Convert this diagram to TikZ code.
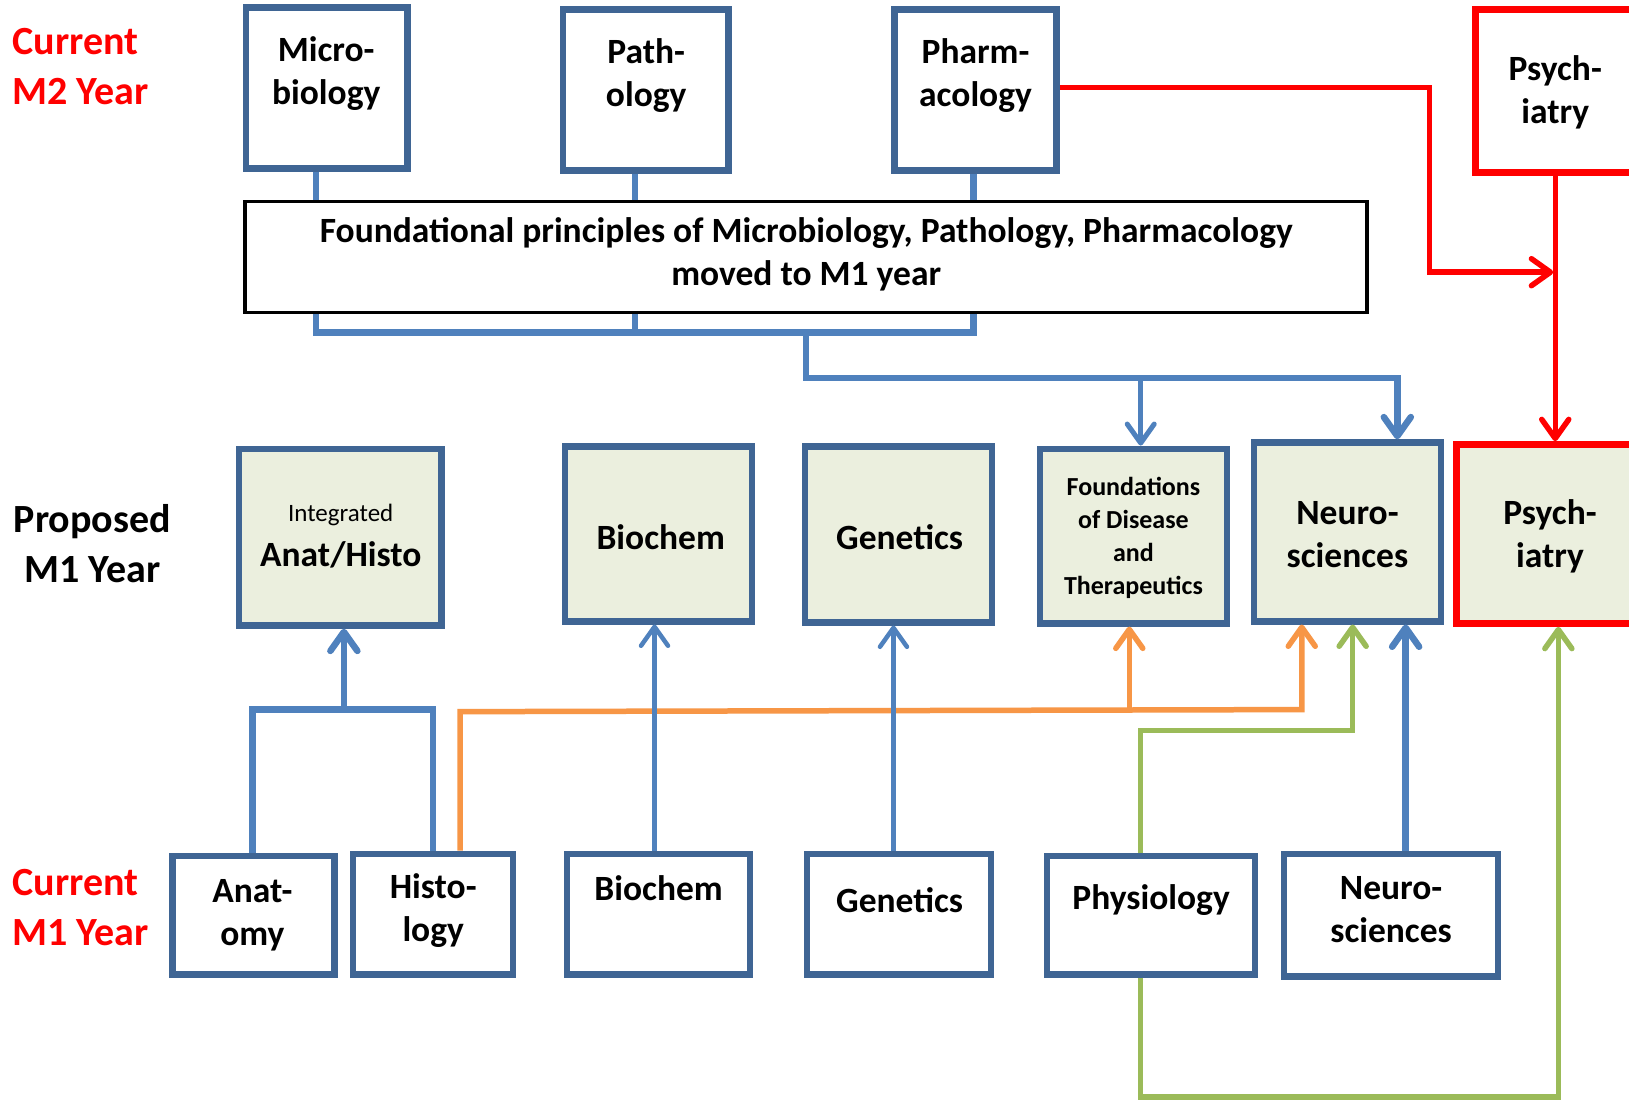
\documentclass[tikz,border=0pt]{standalone}
\usepackage{fontspec}
\setmainfont{Carlito}
\usetikzlibrary{arrows.meta,fit}
\definecolor{boxblue}{HTML}{3F6594}
\definecolor{conblue}{HTML}{4F81BD}
\definecolor{boxfill}{HTML}{EBEFDE}
\definecolor{conorange}{HTML}{F79646}
\definecolor{congreen}{HTML}{9BBB59}
\definecolor{conred}{HTML}{FF0000}
\tikzset{
  bx/.style={draw=boxblue, line width=6.5pt, fill=white, inner sep=0pt},
  gbx/.style={bx, fill=boxfill},
  rbx/.style={draw=conred, line width=7pt, fill=white, inner sep=0pt},
  rgbx/.style={rbx, fill=boxfill},
  kbx/.style={draw=black, line width=3.5pt, fill=white, inner sep=0pt},
  txt/.style={font=\bfseries\fontsize{35.5}{43}\selectfont, align=center, inner sep=0pt},
  stxt/.style={font=\bfseries\fontsize{26}{33}\selectfont, align=center, inner sep=0pt},
  side/.style={font=\bfseries\fontsize{40}{50}\selectfont, align=left, inner sep=0pt},
  tip/.style={-{Straight Barb[length=19pt,width=27pt,round]}},
  bc/.style={draw=conblue, line width=6.5pt},
  oc/.style={draw=conorange, line width=5.5pt},
  gc/.style={draw=congreen, line width=5.5pt},
  rc/.style={draw=conred, line width=5.5pt},
}
\begin{document}
\begin{tikzpicture}[x=1.039pt,y=-1.039pt]
\useasboundingbox (0,0) rectangle (1568,1060);
\clip (0,0) rectangle (1568,1060);
\fill[white] (0,0) rectangle (1568,1060);

% side labels
\node[side, text=conred, anchor=west] (lblM2) at (12,64) {Current\\M2 Year};
\node[side, align=center] (lblP) at (89,523) {Proposed\\M1 Year};
\node[side, text=conred, anchor=west] (lblM1) at (12,874) {Current\\M1 Year};

% top row (current M2)
\node[bx, fit={(237,7)(392,162)}] (micro) {};
\node[txt] (microT) at (314,71) {Micro-\\biology};
\node[bx, fit={(542,9)(701,164)}] (path) {};
\node[txt] (pathT) at (622,73) {Path-\\ology};
\node[bx, fit={(861,9)(1017,164)}] (pharm) {};
\node[txt] (pharmT) at (939,73) {Pharm-\\acology};
\node[rbx, fit={(1420,9)(1590,166)}] (psychT) {};
\node[txt] (psychTT) at (1497,89) {Psych-\\iatry};

% foundational box
\node[kbx, fit={(236,194)(1316,301)}] (found) {};
\node[txt] (foundT) at (776,245) {Foundational principles of Microbiology, Pathology, Pharmacology\\moved to M1 year};

% proposed M1 row
\node[gbx, fit={(230,432)(425,602)}] (anhi) {};
\node[font=\fontsize{25}{30}\selectfont, inner sep=0pt] (anhiA) at (328,496) {Integrated};
\node[txt] (anhiB) at (328,534) {Anat/Histo};
\node[gbx, fit={(544,430)(724,598)}] (bioP) {};
\node[txt] (bioPT) at (636,517) {Biochem};
\node[gbx, fit={(775,430)(955,599)}] (genP) {};
\node[txt] (genPT) at (866,517) {Genetics};
\node[gbx, fit={(1001,432)(1181,600)}] (fdt) {};
\node[stxt] (fdtT) at (1091,518) {Foundations\\of Disease\\and\\Therapeutics};
\node[gbx, fit={(1207,426)(1387,598)}] (neuroP) {};
\node[txt] (neuroPT) at (1297,515) {Neuro-\\sciences};
\node[rgbx, fit={(1402,428)(1590,600)}] (psychM) {};
\node[txt] (psychMT) at (1492,516) {Psych-\\iatry};

% current M1 row
\node[bx, fit={(166,824)(322,938)}] (anat) {};
\node[txt] (anatT) at (243,881) {Anat-\\omy};
\node[bx, fit={(340,822)(494,938)}] (histo) {};
\node[txt] (histoT) at (417,876) {Histo-\\logy};
\node[bx, fit={(546,822)(722,938)}] (bioB) {};
\node[txt] (bioBT) at (634,855) {Biochem};
\node[bx, fit={(777,822)(954,938)}] (genB) {};
\node[txt] (genBT) at (866,866) {Genetics};
\node[bx, fit={(1008,824)(1208,938)}] (phys) {};
\node[txt] (physT) at (1108,866) {Physiology};
\node[bx, fit={(1236,822)(1442,940)}] (neuroB) {};
\node[txt] (neuroBT) at (1339,876) {Neuro-\\sciences};

% top connectors into foundational box
\draw[bc] (micro.south -| 304,0) -- (found.north -| 304,0);
\draw[bc] (path.south -| 611,0) -- (found.north -| 611,0);
\draw[bc] (pharm.south -| 937,0) -- (found.north -| 937,0);
\draw[bc, line join=miter] (found.south -| 304,0) -- (304,320) -- (937,320) -- (found.south -| 937,0);
\draw[bc] (found.south -| 611,0) -- (611,320);
\coordinate (fj) at (776,320);
\draw[bc, tip, line join=miter] (fj) -- (776,364) -- (1345,364) -- (neuroP.north -| 1345,0);
\draw[bc, tip, line width=5pt] (1098,364) -- (fdt.north -| 1098,0);

% red connectors
\draw[rc, tip, line join=miter] (pharm.east |- 0,84) -- (1376,84) -- (1376,262) -- (1495,262);
\draw[rc, tip] (psychT.south -| 1497,0) -- (psychM.north -| 1497,0);

% bottom connectors
\draw[bc, line join=miter] (anat.north -| 243,0) -- (243,683) -- (417,683) -- (histo.north -| 417,0);
\draw[bc, tip] (331,683) -- (anhi.south -| 331,0);
\draw[oc, tip, line join=miter] (histo.north -| 443,0) -- (443,685) -- (1253,683) -- (neuroP.south -| 1253,0);
\draw[oc, tip] (1087,683) -- (fdt.south -| 1087,0);
\draw[bc, tip, line width=4.5pt] (bioB.north -| 630,0) -- (bioP.south -| 630,0);
\draw[bc, tip, line width=4.5pt] (genB.north -| 860,0) -- (genP.south -| 860,0);
\draw[gc, tip, line join=miter] (phys.north -| 1098,0) -- (1098,703) -- (1302,703) -- (neuroP.south -| 1302,0);
\draw[bc, tip] (neuroB.north -| 1353,0) -- (neuroP.south -| 1353,0);
\draw[gc, tip, line join=miter] (phys.south -| 1098,0) -- (1098,1056) -- (1500,1056) -- (psychM.south -| 1500,0);
\end{tikzpicture}
\end{document}
